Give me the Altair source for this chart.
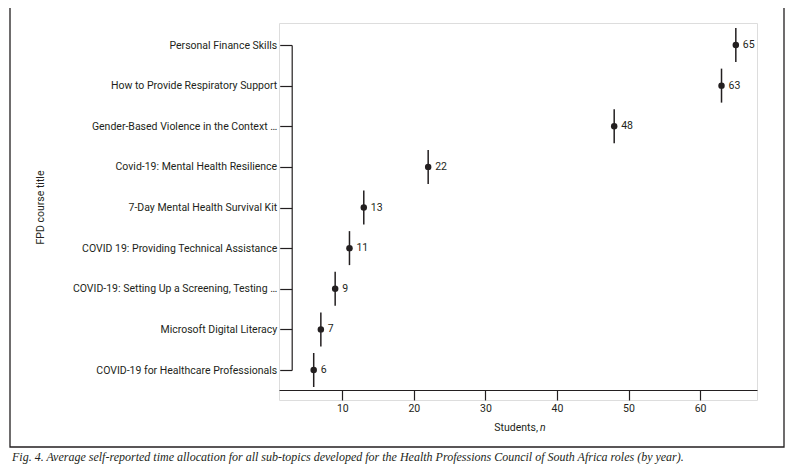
import altair as alt
import pandas as pd

courses = [
    "Personal Finance Skills",
    "How to Provide Respiratory Support",
    "Gender-Based Violence in the Context …",
    "Covid-19: Mental Health Resilience",
    "7-Day Mental Health Survival Kit",
    "COVID 19: Providing Technical Assistance",
    "COVID-19: Setting Up a Screening, Testing …",
    "Microsoft Digital Literacy",
    "COVID-19 for Healthcare Professionals",
]
students = [65, 63, 48, 22, 13, 11, 9, 7, 6]
x_ticks = [10, 20, 30, 40, 50, 60]

caption = ("Fig. 4. Average self-reported time allocation for all sub-topics developed "
           "for the Health Professions Council of South Africa roles (by year).")

df = pd.DataFrame({"course": courses, "students": students})

FONT = "Roboto"
INK = "#231f20"

x_enc = alt.X("students:Q",
              scale=alt.Scale(domain=[1.15, 67.96], nice=False, zero=False),
              axis=alt.Axis(values=x_ticks, title=None, offset=-10, tickSize=10,
                            labelPadding=3, labelFontSize=10.5, labelFont=FONT,
                            labelColor=INK, domainColor=INK, tickColor=INK,
                            domainWidth=1.2, tickWidth=1.2, grid=False))
y_enc = alt.Y("course:N", sort=courses,
              scale=alt.Scale(type="point", range=[22, 347], padding=0),
              axis=alt.Axis(title="FPD course title", offset=-12.7, tickSize=12,
                            labelPadding=3, labelFontSize=10.5, labelFont=FONT,
                            labelLimit=0,
                            labelColor=INK, domainColor=INK, tickColor=INK,
                            domainWidth=1.2, tickWidth=1.2, grid=False,
                            titleFont=FONT, titleFontSize=10.5, titleFontWeight="normal",
                            titleColor=INK, titleX=-251.7, titleY=184, titleAngle=-90,
                            titleBaseline="middle", titleAlign="center"))

base = alt.Chart(df)

ticks = base.mark_tick(color=INK, size=34, thickness=1.5, opacity=1).encode(x=x_enc, y=y_enc)
points = base.mark_circle(color=INK, size=42, opacity=1).encode(x=x_enc, y=y_enc)
labels = base.mark_text(align="left", baseline="middle", dx=7, fontSize=10.5,
                        font=FONT, color=INK).encode(
    x=x_enc, y=y_enc, text="students:Q")

frame = alt.Chart(pd.DataFrame({"k": [0]})).mark_rect(
    filled=False, stroke=INK, strokeWidth=1.3).encode(
    x=alt.value(-269), x2=alt.value(505), y=alt.value(-17), y2=alt.value(424))

xt1 = alt.Chart(pd.DataFrame({"t": ["Students,"]})).mark_text(
    align="right", baseline="middle", fontSize=10.5, font=FONT, color=INK).encode(
    x=alt.value(259), y=alt.value(405), text="t:N")
xt2 = alt.Chart(pd.DataFrame({"t": ["n"]})).mark_text(
    align="left", baseline="middle", fontSize=10.5, font=FONT, fontStyle="italic",
    color=INK).encode(x=alt.value(261), y=alt.value(405), text="t:N")

cap = alt.Chart(pd.DataFrame({"t": [caption]})).mark_text(
    align="left", baseline="alphabetic", fontSize=12, font="Liberation Serif",
    fontStyle="italic", color=INK).encode(x=alt.value(-267), y=alt.value(438), text="t:N")

chart = alt.layer(frame, ticks, points, labels, xt1, xt2, cap).properties(
    width=478, height=377,
    autosize=alt.AutoSizeParams(type="none"),
    padding={"left": 271, "top": 15, "right": 31, "bottom": 66},
).configure_view(stroke=None).configure(background="white")

chart.save("out.html", embed_options={"renderer": "svg", "actions": False})
